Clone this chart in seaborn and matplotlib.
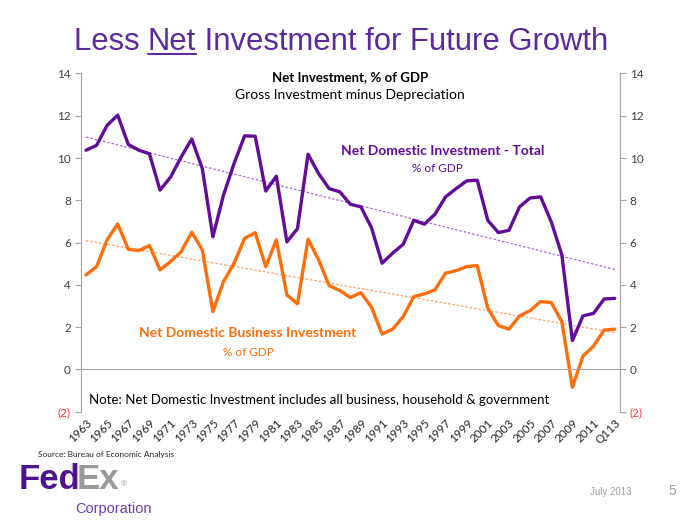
import numpy as np
import pandas as pd
import matplotlib
matplotlib.use("Agg")
import matplotlib.pyplot as plt
import seaborn as sns

# ------------------------------------------
# Data
# ------------------------------------------
periods = [str(y) for y in range(1963, 2013)] + ["Q113"]

total_inv = [10.37, 10.6, 11.55, 12.03, 10.64, 10.37, 10.2, 8.48, 9.1, 10.05,
             10.9, 9.5, 6.27, 8.24, 9.74, 11.05, 11.03, 8.44, 9.14, 6.03,
             6.66, 10.18, 9.26, 8.55, 8.4, 7.81, 7.69, 6.7, 5.02, 5.5,
             5.92, 7.05, 6.87, 7.34, 8.16, 8.55, 8.92, 8.95, 7.05, 6.47,
             6.58, 7.69, 8.11, 8.16, 6.98, 5.42, 1.36, 2.53, 2.65, 3.33, 3.36]

business_inv = [4.47, 4.86, 6.13, 6.88, 5.68, 5.62, 5.86, 4.71, 5.1, 5.57,
                6.49, 5.65, 2.73, 4.15, 5.02, 6.2, 6.47, 4.86, 6.13, 3.52,
                3.1, 6.16, 5.18, 3.96, 3.73, 3.4, 3.63, 2.94, 1.67, 1.9,
                2.5, 3.44, 3.57, 3.76, 4.55, 4.67, 4.86, 4.91, 2.89, 2.07,
                1.9, 2.53, 2.78, 3.21, 3.16, 2.26, -0.85, 0.63, 1.1, 1.86, 1.9]

y_ticks = [-2, 0, 2, 4, 6, 8, 10, 12, 14]
y_labels = ["(2)", "0", "2", "4", "6", "8", "10", "12", "14"]

PURPLE = "#620c9a"
ORANGE = "#ff6d0a"
PURPLE_LT = "#a66ad8"
ORANGE_LT = "#ffa066"

df = pd.DataFrame({"pos": np.arange(len(periods)),
                   "total": total_inv,
                   "business": business_inv})

# ------------------------------------------
# Figure
# ------------------------------------------
sns.set_style("white")
plt.rcParams["font.family"] = ["Lato", "DejaVu Sans"]
ARIAL = ["Liberation Sans", "DejaVu Sans"]

fig = plt.figure(figsize=(7, 5.25), dpi=100)
ax = fig.add_axes([0.1153, 0.216, 0.7704, 0.644])

# trend lines (linear fit)
for col, c in [("total", PURPLE_LT), ("business", ORANGE_LT)]:
    k, b = np.polyfit(df["pos"], df[col], 1)
    ax.plot(df["pos"], k * df["pos"] + b, color=c, lw=0.9, ls=(0, (2, 1.5)))

sns.lineplot(data=df, x="pos", y="total", color=PURPLE, lw=2.4, ax=ax)
sns.lineplot(data=df, x="pos", y="business", color=ORANGE, lw=2.4, ax=ax)

ax.set_xlim(-0.5, len(periods) - 0.5)
ax.set_ylim(-2, 14)
ax.set_xlabel("")
ax.set_ylabel("")

ax.spines["top"].set_visible(False)
for s in ["left", "right", "bottom"]:
    ax.spines[s].set_color("#a6a6a6")
    ax.spines[s].set_linewidth(0.8)
ax.spines["bottom"].set_position(("data", 0))

# category-boundary ticks on the zero line
ax.set_xticks(np.arange(0.5, len(periods) - 1, 1))
ax.set_xticklabels([])
ax.tick_params(axis="x", length=4, color="#a6a6a6", direction="out")

ax.set_yticks(y_ticks)
ax.set_yticklabels(y_labels, fontsize=8.5, color="#404040")
ax.tick_params(axis="y", length=4, color="#a6a6a6", pad=3)
ax.get_yticklabels()[0].set_color("#ff3333")

ax2 = ax.twinx()
ax2.set_ylim(-2, 14)
ax2.set_yticks(y_ticks)
ax2.set_yticklabels(y_labels, fontsize=8.5, color="#404040")
ax2.tick_params(axis="y", length=4, color="#a6a6a6", pad=3)
ax2.get_yticklabels()[0].set_color("#ff3333")
for s in ["top", "left", "bottom"]:
    ax2.spines[s].set_visible(False)
ax2.spines["right"].set_color("#a6a6a6")
ax2.spines["right"].set_linewidth(0.8)

# period labels at the bottom
sec = ax.secondary_xaxis(0.0)
sec.spines["bottom"].set_visible(False)
lab_pos = list(range(0, len(periods), 2))
sec.set_xticks(lab_pos)
sec.set_xticklabels([periods[i] for i in lab_pos], rotation=45, ha="right",
                    rotation_mode="anchor", fontsize=8.5, color="#262626")
sec.tick_params(axis="x", length=0, pad=4)

# texts inside the chart
ax.text(0.5, 0.99, "Net Investment, % of GDP", transform=ax.transAxes,
        ha="center", va="center", fontsize=9.5, fontweight="bold", color="black")
ax.text(0.5, 0.937, "Gross Investment minus Depreciation", transform=ax.transAxes,
        ha="center", va="center", fontsize=10, color="black")
ax.text(0.672, 0.77, "Net Domestic Investment - Total", transform=ax.transAxes,
        ha="center", va="center", fontsize=10, fontweight="bold", color=PURPLE)
ax.text(0.662, 0.72, "% of GDP", transform=ax.transAxes,
        ha="center", va="center", fontsize=8.5, color=PURPLE)
ax.text(0.31, 0.232, "Net Domestic Business Investment", transform=ax.transAxes,
        ha="center", va="center", fontsize=10, fontweight="bold", color=ORANGE)
ax.text(0.31, 0.176, "% of GDP", transform=ax.transAxes,
        ha="center", va="center", fontsize=8.5, color=ORANGE)
ax.text(0.016, 0.034, "Note: Net Domestic Investment includes all business, household & government",
        transform=ax.transAxes, ha="left", va="center", fontsize=9.5, color="black")

fig.text(0.054, 0.134, "Source: Bureau of Economic Analysis", fontsize=6,
         color="#262626", ha="left", va="center")

# slide title with underlined "Net"
fig.canvas.draw()
r = fig.canvas.get_renderer()
W = fig.bbox.width
TITLE_C = "#5b2a9c"
parts = ["Less ", "Net", " Investment for Future Growth"]
tmp = [fig.text(0, 0, p, fontsize=22.3, family=ARIAL) for p in parts]
widths = [t.get_window_extent(renderer=r).width / W for t in tmp]
for t in tmp:
    t.remove()
x = 0.487 - sum(widths) / 2
ty = 0.905
for p, w in zip(parts, widths):
    fig.text(x, ty, p, fontsize=22.3, color=TITLE_C, ha="left", va="baseline",
             family=ARIAL)
    if p == "Net":
        fig.add_artist(plt.Line2D([x, x + w], [ty - 0.008, ty - 0.008],
                                  color=TITLE_C, lw=1.5, transform=fig.transFigure))
    x += w

# FedEx footer
t1 = fig.text(0.026, 0.068, "Fed", fontsize=25, fontweight="bold",
              color="#4d148c", ha="left", va="baseline", family=ARIAL)
bb = t1.get_window_extent(renderer=r)
x2 = bb.x1 / W - 0.005
t2 = fig.text(x2, 0.068, "Ex", fontsize=25, fontweight="bold",
              color="#9a9a9a", ha="left", va="baseline", family=ARIAL)
bb2 = t2.get_window_extent(renderer=r)
fig.text(bb2.x1 / W + 0.003, 0.073, "®", fontsize=6,
         color="#9a9a9a", ha="left", va="baseline", family=ARIAL)
fig.text(0.107, 0.022, "Corporation", fontsize=10.5, color="#6b3fae",
         ha="left", va="baseline", family=ARIAL)
fig.text(0.843, 0.054, "July 2013", fontsize=7, color="#a0a0a0",
         ha="left", va="bottom", family=ARIAL)
fig.text(0.955, 0.052, "5", fontsize=10, color="#a0a0a0", ha="left",
         va="bottom", family=ARIAL)

fig.savefig("out.png", dpi=100)
